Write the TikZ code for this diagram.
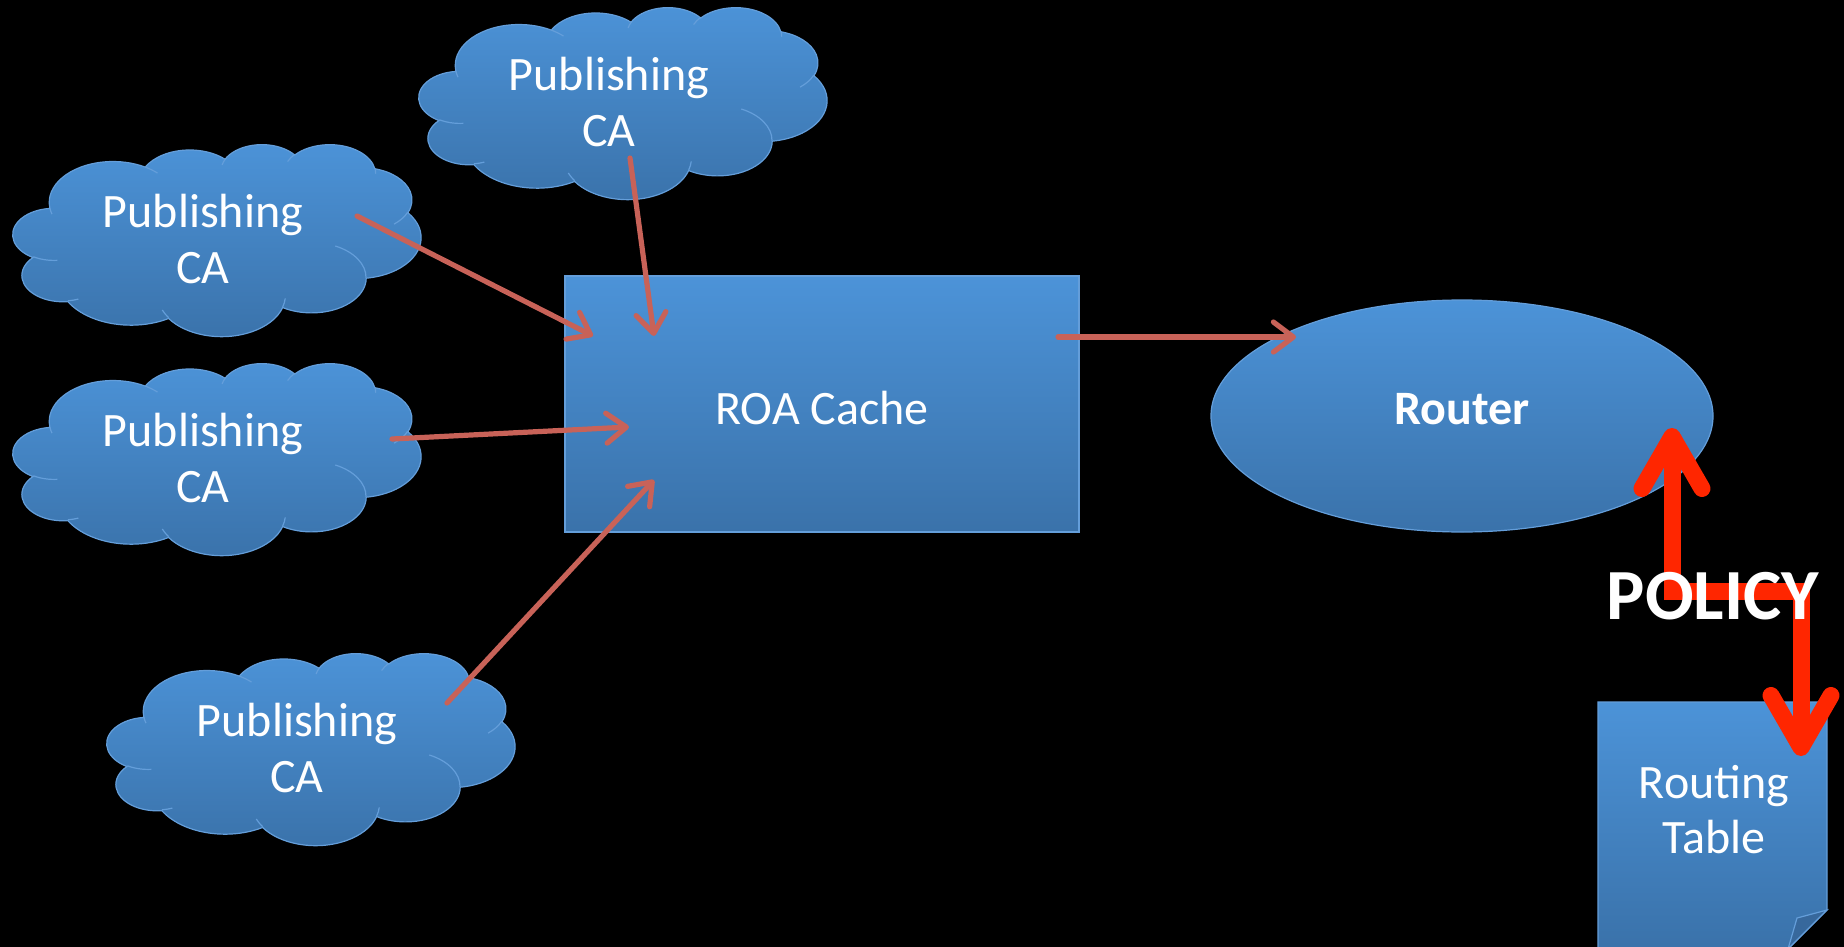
\documentclass[tikz,border=0pt]{standalone}
\usepackage{fontspec}
\setmainfont{Carlito}
\usetikzlibrary{arrows.meta,shapes.geometric}

\definecolor{shapetop}{RGB}{76,147,216}
\definecolor{shapebot}{RGB}{58,114,170}
\definecolor{shapeline}{RGB}{100,158,218}
\definecolor{flowline}{RGB}{200,98,88}
\definecolor{policyred}{RGB}{255,38,0}
\definecolor{foldblue}{RGB}{55,104,156}

\tikzset{
  shapefill/.style={top color=shapetop, bottom color=shapebot, draw=shapeline, line width=1.2pt},
  cloudcrease/.style={draw=shapeline, line width=1.2pt},
  lbl/.style={text=white, inner sep=0pt, font=\fontsize{48}{57}\selectfont},
  flow/.style={draw=flowline, line width=5.2pt, line cap=round,
    -{Straight Barb[length=20pt, width=30pt, round]}},
  policy/.style={draw=policyred, line width=17pt, line join=miter,
    {Straight Barb[length=52pt, width=60pt, round]}-{Straight Barb[length=52pt, width=60pt, round]}},
}

% cloud outline with its inner creases; #1 = label name, #2,#3 = top-left corner
\newcommand{\pubcloud}[3]{%
  \begin{scope}[shift={(#2,#3)}, x=0.9444pt, y=-0.4444pt]
    \path[shapefill] (39.00,143.70)
      arc[start angle=-187.75, end angle=-59.64, x radius=67.53, y radius=91.90]
      arc[start angle=-152.02, end angle=-45.45, x radius=53.33, y radius=72.67]
      arc[start angle=-153.49, end angle=-37.33, x radius=43.65, y radius=59.45]
      arc[start angle=-139.72, end angle=-10.22, x radius=48.57, y radius=65.95]
      arc[start angle=-74.77, end angle=23.21, x radius=53.33, y radius=72.73]
      arc[start angle=-37.52, end angle=81.86, x radius=67.75, y radius=92.20]
      arc[start angle=0.46, end angle=121.98, x radius=57.85, y radius=78.67]
      arc[start angle=16.85, end angle=146.22, x radius=67.52, y radius=92.15]
      arc[start angle=58.98, end angle=150.19, x radius=77.20, y radius=105.43]
      arc[start angle=83.31, end angle=223.12, x radius=43.60, y radius=59.18]
      arc[start angle=120.36, end angle=264.11, x radius=43.45, y radius=59.45]
      -- cycle;
    \path[cloudcrease]
      (46.93,261.77) arc[start angle=85.54, end angle=120.36, x radius=43.45, y radius=59.45]
      (69.28,348.99) arc[start angle=68.23, end angle=83.31, x radius=43.60, y radius=59.18]
      (164.78,390.90) arc[start angle=146.22, end angle=158.47, x radius=67.52, y radius=92.15]
      (288.27,347.51) arc[start angle=4.73, end angle=16.85, x radius=67.52, y radius=92.15]
      (341.29,229.54) arc[start angle=-64.03, end angle=0.46, x radius=57.85, y radius=78.67]
      (417.98,153.54) arc[start angle=23.21, end angle=49.64, x radius=53.33, y radius=72.73]
      (383.24,54.26) arc[start angle=-10.21, end angle=0.83, x radius=48.57, y radius=65.95]
      (290.78,39.52) arc[start angle=-156.30, end angle=-139.72, x radius=48.57, y radius=65.95]
      (221.41,47.20) arc[start angle=-167.72, end angle=-153.49, x radius=43.65, y radius=59.45]
      (140.00,51.92) arc[start angle=-59.64, end angle=-45.74, x radius=67.53, y radius=91.90]
      (41.27,157.89) arc[start angle=163.19, end angle=172.25, x radius=67.53, y radius=91.90];
    \node[lbl, anchor=base] (#1) at (201.2,186.8) {Publishing};
    \node[lbl, anchor=base] (#1b) at (201.2,315) {CA};
  \end{scope}}

\begin{document}
\begin{tikzpicture}[x=1pt, y=-1pt]
  \fill[black] (0,0) rectangle (1844,947);
  \useasboundingbox (0,0) rectangle (1844,947);

  % publishing authorities
  \pubcloud{pubA}{419}{7}
  \pubcloud{pubB}{13}{144}
  \pubcloud{pubC}{13}{363}
  \pubcloud{pubD}{107}{653}

  % cache and router
  \node[shapefill, rectangle, lbl, minimum width=514pt, minimum height=256pt,
        text height=40pt, text depth=0pt] (roa) at (822,404) {ROA Cache};
  \node[shapefill, ellipse, lbl, font=\fontsize{48}{57}\selectfont\bfseries,
        minimum width=502pt, minimum height=232pt,
        text height=16pt, text depth=0pt] (router) at (1462,416) {Router};

  % routing table sheet with folded corner
  \coordinate (tblNW) at (1598,702);
  \path[shapefill] (tblNW) -- (1827,702) -- (1827,910) -- (1788,949) -- (1598,949) -- cycle;
  \path[draw=shapeline, fill=foldblue, line width=1.2pt] (1827,910) -- (1797,918) -- (1788,949) -- cycle;
  \node[lbl, anchor=base] (rtab) at (1714,798) {Routing};
  \node[lbl, anchor=base] (rtabb) at (1714,853) {Table};

  % feeds into the cache
  \coordinate (fromA) at (630,158);  \coordinate (toA) at (654,336);
  \coordinate (fromB) at (357,216);  \coordinate (toB) at (593,336);
  \coordinate (fromC) at (392,439);  \coordinate (toC) at (629,427);
  \coordinate (fromD) at (447,703);  \coordinate (toD) at (654,480);
  \coordinate (fromR) at (1058,337); \coordinate (toR) at (1296,337);
  \draw[flow] (fromA) -- (toA);
  \draw[flow] (fromB) -- (toB);
  \draw[flow] (fromC) -- (toC);
  \draw[flow] (fromD) -- (toD);
  \draw[flow] (fromR) -- (toR);

  % policy link between router and routing table
  \coordinate (upTip) at (1672,428);
  \coordinate (elbowL) at (1672,591);
  \coordinate (elbowR) at (1801,591);
  \coordinate (downTip) at (1801,756);
  \draw[policy] (upTip) -- (elbowL) -- (elbowR) -- (downTip);
  \node[lbl, font=\fontsize{72}{80}\selectfont\bfseries, anchor=base] (policy) at (1713,619) {POLICY};
\end{tikzpicture}
\end{document}
